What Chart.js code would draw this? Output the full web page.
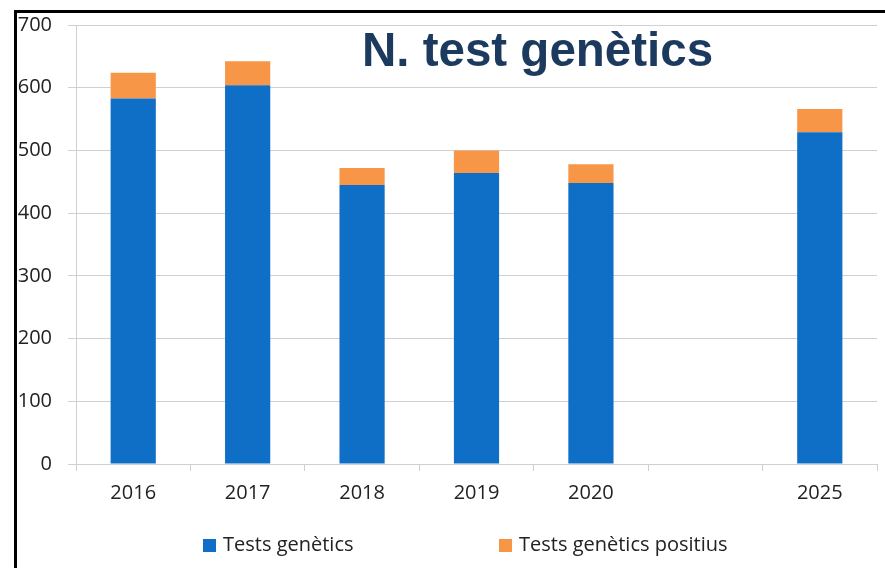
<!DOCTYPE html>
<html>
<head>
<meta charset="utf-8">
<script src="https://cdn.jsdelivr.net/npm/chart.js@4"></script>
<style>
  body { margin: 0; background: #fff; }
  #wrap { position: relative; width: 885px; height: 568px; }
  #frame {
    position: absolute; left: 14px; top: 10px; right: 0; bottom: 0;
    border-top: 3px solid #000; border-left: 3px solid #000;
    pointer-events: none;
  }
</style>
</head>
<body>
<div id="wrap">
  <canvas id="chart" width="885" height="568"></canvas>
  <div id="frame"></div>
</div>
<script>
// years, one empty slot between 2020 and 2025
const years = ["2016", "2017", "2018", "2019", "2020", "", "2025"];
const tests = [583, 604, 445, 464, 448, null, 529];
const positives = [41, 38, 27, 36, 30, null, 37];
const yTicks = [0, 100, 200, 300, 400, 500, 600, 700];

const chartTitle = "N. test genètics";
const gridGray = "#d0d0d0";
const textCol = "#222222";

// title sits inside the plot area, so draw it by hand
const titlePlugin = {
  id: "overTitle",
  afterDraw(chart) {
    const ctx = chart.ctx;
    ctx.save();
    ctx.font = "bold 47.5px 'Liberation Sans', Arial, sans-serif";
    ctx.fillStyle = "#1b3a5e";
    ctx.textAlign = "left";
    ctx.textBaseline = "alphabetic";
    ctx.fillText(chartTitle, 362, 66);
    ctx.restore();
  }
};

// legend with wide gap between the items
const legendPlugin = {
  id: "wideLegend",
  afterDraw(chart) {
    const ctx = chart.ctx;
    const xs = [203, 499];
    ctx.save();
    ctx.font = "20px 'Open Sans', sans-serif";
    ctx.textBaseline = "middle";
    chart.data.datasets.forEach((ds, i) => {
      ctx.fillStyle = ds.backgroundColor;
      ctx.fillRect(xs[i], 539, 13, 13);
      ctx.fillStyle = textCol;
      ctx.fillText(ds.label, xs[i] + 20, 545);
    });
    ctx.restore();
  }
};

new Chart(document.getElementById("chart"), {
  type: "bar",
  data: {
    labels: years,
    datasets: [
      { label: "Tests genètics", data: tests, backgroundColor: "#0f6ec6" },
      { label: "Tests genètics positius", data: positives, backgroundColor: "#f79646" }
    ]
  },
  options: {
    responsive: false,
    animation: false,
    layout: { padding: { left: 0, top: 25, right: 8, bottom: 0 } },
    datasets: { bar: { barPercentage: 0.395, categoryPercentage: 1 } },
    plugins: {
      legend: { display: false },
      tooltip: { enabled: false }
    },
    scales: {
      x: {
        stacked: true,
        afterFit: (s) => { s.height = 104; },
        grid: { drawOnChartArea: false, offset: true, tickLength: 7, color: gridGray },
        border: { color: gridGray },
        ticks: { color: textCol, padding: 10, font: { family: "'Open Sans'", size: 20 } }
      },
      y: {
        stacked: true,
        min: 0,
        max: 700,
        afterFit: (s) => { s.width = 76; s.paddingTop = 0; s.paddingBottom = 0; },
        afterBuildTicks: (s) => { s.ticks = yTicks.map(v => ({ value: v })); },
        grid: { color: gridGray, tickLength: 8 },
        border: { color: gridGray },
        ticks: { color: textCol, padding: 16, font: { family: "'Open Sans'", size: 20 } }
      }
    }
  },
  plugins: [titlePlugin, legendPlugin]
});
</script>
</body>
</html>
